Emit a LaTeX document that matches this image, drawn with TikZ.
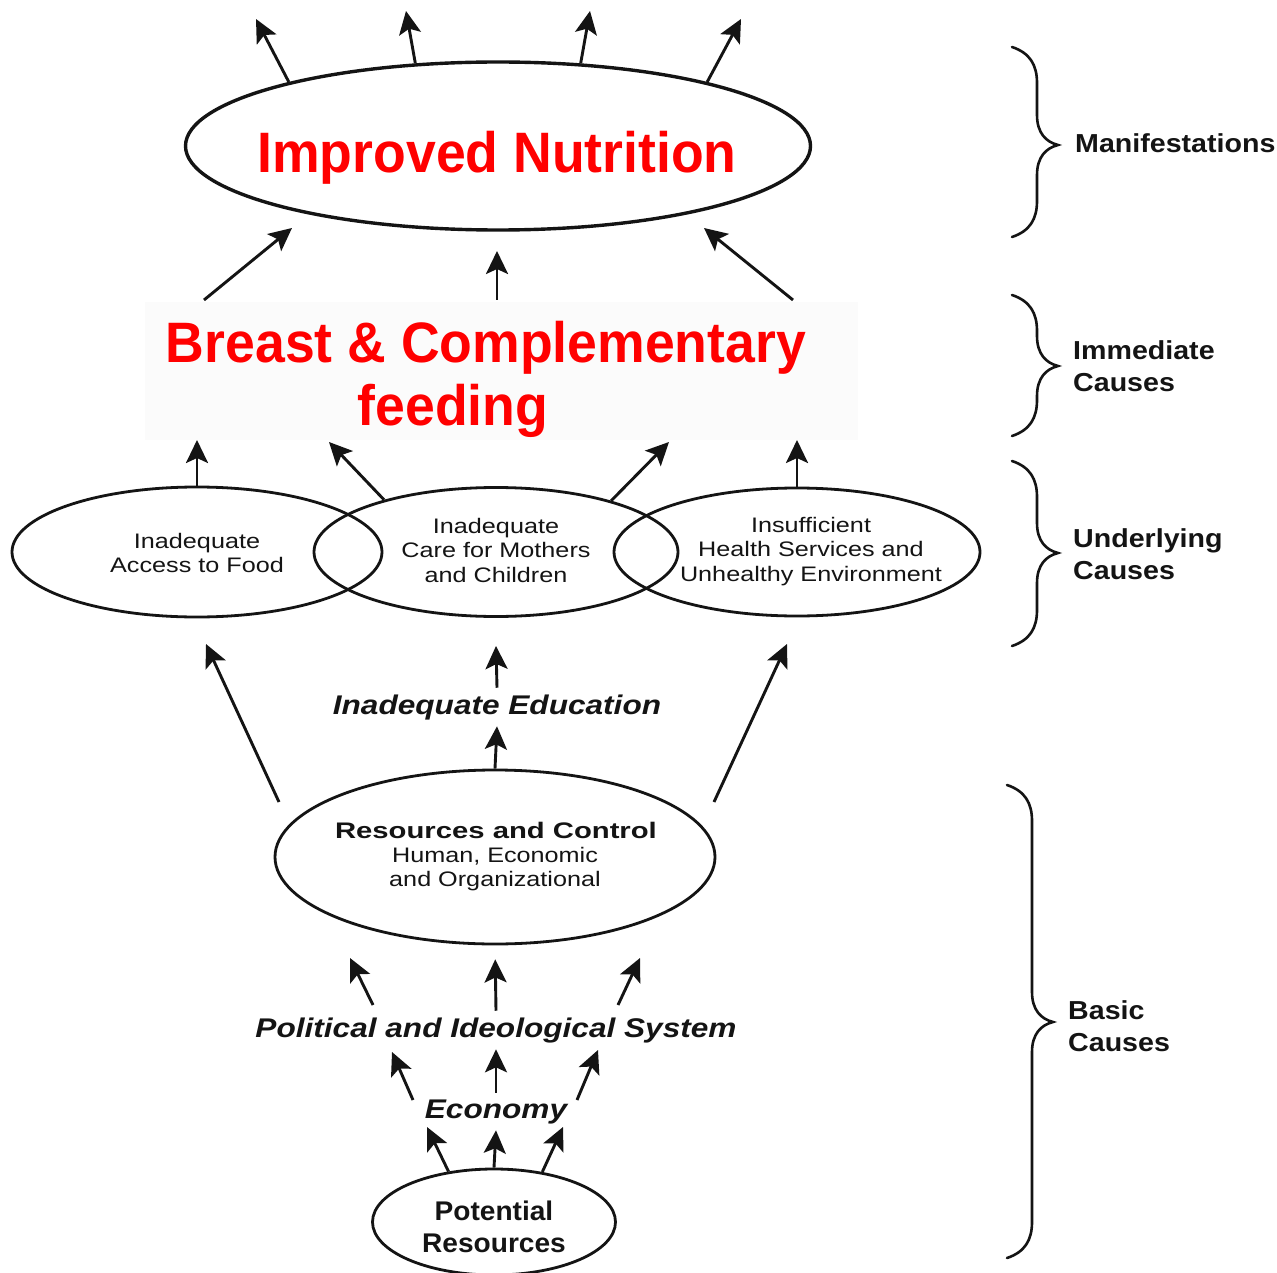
\documentclass[tikz,border=0pt]{standalone}
\usepackage{fontspec}
\setmainfont{Liberation Sans}
\newfontfamily\fRed[FakeStretch=0.94]{Liberation Sans}
\newfontfamily\fThin[FakeStretch=1.2]{Liberation Sans}
\newfontfamily\fRC[FakeStretch=1.3]{Liberation Sans}
\newfontfamily\fIt[FakeStretch=1.17]{Liberation Sans}
\newfontfamily\fLab[FakeStretch=1.1]{Liberation Sans}
\newfontfamily\fPot[FakeStretch=1.04]{Liberation Sans}
\usetikzlibrary{shapes.geometric,arrows.meta}
\definecolor{ink}{gray}{0.08}
\definecolor{nred}{RGB}{255,0,0}
\newcommand\BraceAt[4]{%
  \draw[bracestyle] (#1,#2) .. controls (#1+18,#2+6) and (#1+25,#2+18) .. (#1+25,#2+36)
    -- (#1+25,#3-30) .. controls (#1+25,#3-12) and (#1+34,#3-3) .. (#1+46,#3)
    .. controls (#1+34,#3+3) and (#1+25,#3+12) .. (#1+25,#3+30)
    -- (#1+25,#4-36) .. controls (#1+25,#4-18) and (#1+18,#4-6) .. (#1,#4);}
\begin{document}
\begin{tikzpicture}[x=1pt,y=-1pt,
  ell/.style={draw=ink, ellipse, inner sep=0pt, line width=2.8pt},
  arr/.style={draw=ink, line width=2.9pt, -{Stealth[length=23pt,width=22pt,inset=5pt]}},
  txt/.style={inner sep=0pt, text=ink, align=center},
  redtxt/.style={inner sep=0pt, text=nred, font=\fRed\bfseries\fontsize{57}{64}\selectfont},
  thin/.style={txt, font=\fThin\fontsize{21}{24.5}\selectfont},
  itl/.style={txt, inner ysep=6.5pt, font=\fIt\bfseries\itshape\fontsize{27}{30}\selectfont},
  lab/.style={inner sep=0pt, text=ink, align=left, font=\fLab\bfseries\fontsize{26}{32}\selectfont},
  bracestyle/.style={draw=ink, line width=2.6pt, line cap=round}]
\fill[white] (0,0) rectangle (1277,1273);
\useasboundingbox (0,0) rectangle (1277,1273);
\fill[black!1.5] (145,302) rectangle (858,440);

% --- Manifestations
\node[ell, line width=3.4pt, minimum width=625pt, minimum height=168pt] (top) at (498,146) {};
\node[redtxt, anchor=base] (topT) at (497,173) {Improved Nutrition};

% --- Immediate causes
\node[redtxt, anchor=base] (bf1) at (486,362) {Breast \& Complementary};
\node[redtxt, anchor=base] (bf2) at (453,425) {feeding};

% --- Underlying causes (multi-line nodes: base = last line)
\node[ell, minimum width=370pt, minimum height=130pt] (L) at (197,552) {};
\node[ell, minimum width=364pt, minimum height=129pt] (M) at (496,552) {};
\node[ell, minimum width=366pt, minimum height=128pt] (R) at (797,552) {};
\node[thin, anchor=base] (LT) at (197,572.5) {Inadequate\\Access to Food};
\node[thin, anchor=base] (MT) at (496,582) {Inadequate\\Care for Mothers\\and Children};
\node[thin, anchor=base] (RT) at (811,581) {Insufficient\\Health Services and\\Unhealthy Environment};

% --- Basic causes
\node[itl, anchor=base] (edu) at (497,714) {Inadequate Education};
\node[ell, minimum width=440pt, minimum height=174pt] (res) at (495,857) {};
\node[txt, anchor=base, font=\fRC\bfseries\fontsize{22.5}{25}\selectfont] (resA) at (496,838) {Resources and Control};
\node[thin, anchor=base, font=\fThin\fontsize{21}{24}\selectfont] (resB) at (495,886) {Human, Economic\\and Organizational};
\node[itl, anchor=base] (pol) at (496,1037) {Political and Ideological System};
\node[itl, anchor=base] (eco) at (496,1118) {Economy};
\node[ell, minimum width=243pt, minimum height=106pt] (pot) at (494,1222) {};
\node[txt, anchor=base, font=\fPot\bfseries\fontsize{27}{32}\selectfont] (potT) at (494,1252) {Potential\\Resources};

% --- free arrow ends
\coordinate (a1) at (256,19);
\coordinate (a2) at (406,11);
\coordinate (a3) at (590,11);
\coordinate (a4) at (741,19);
\coordinate (b1s) at (204,300); \coordinate (b1) at (292,228);
\coordinate (b2s) at (497,300); \coordinate (b2) at (497,251);
\coordinate (b3s) at (793,300); \coordinate (b3) at (704,228);
\coordinate (u1) at (197,440);
\coordinate (u2) at (329,442);
\coordinate (u3) at (669,442);
\coordinate (u4) at (797,440);
\coordinate (r1s) at (279,802); \coordinate (r1) at (206,644);
\coordinate (r3s) at (714,802); \coordinate (r3) at (787,644);
\coordinate (u5) at (496,646);
\coordinate (p1s) at (373,1005); \coordinate (p1) at (350,958);
\coordinate (p3s) at (618,1005); \coordinate (p3) at (640,958);
\coordinate (e1s) at (413,1100); \coordinate (e1) at (392,1052);
\coordinate (e3s) at (577,1100); \coordinate (e3) at (598,1050);
\coordinate (q1) at (427,1127);
\coordinate (q3) at (563,1127);

% --- arrows
\draw[arr] (top.163) -- (a1);
\draw[arr] (top.135) -- (a2);
\draw[arr] (top.45) -- (a3);
\draw[arr] (top.17) -- (a4);
\draw[arr] (b1s) -- (b1);
\draw[arr] (b2s) -- (b2);
\draw[arr] (b3s) -- (b3);
\draw[arr] (L.north) -- (u1);
\draw[arr] (M.155.5) -- (u2);
\draw[arr] (M.24.5) -- (u3);
\draw[arr] (R.north) -- (u4);
\draw[arr] (r1s) -- (r1);
\draw[arr] (r3s) -- (r3);
\draw[arr] (res.north) -- (edu.south);
\draw[arr] (edu.north) -- (u5);
\draw[arr] (p1s) -- (p1);
\draw[arr, shorten >=14pt] (pol.north) -- (res.south);
\draw[arr] (p3s) -- (p3);
\draw[arr] (e1s) -- (e1);
\draw[arr] (eco.north) -- (pol.south);
\draw[arr] (e3s) -- (e3);
\draw[arr] (pot.132.6) -- (q1);
\draw[arr] (pot.north) -- (eco.south);
\draw[arr] (pot.46.2) -- (q3);

% --- braces and level labels
\BraceAt{1012}{47}{145}{237}
\BraceAt{1012}{295}{366}{436}
\BraceAt{1012}{461}{553}{646}
\BraceAt{1007}{785}{1022}{1258}
\node[lab, anchor=base west] (m1) at (1075,153) {Manifestations};
\node[lab, anchor=base west] (m2) at (1073,391) {Immediate\\Causes};
\node[lab, anchor=base west] (m3) at (1073,579) {Underlying\\Causes};
\node[lab, anchor=base west] (m4) at (1068,1051) {Basic\\Causes};
\end{tikzpicture}
\end{document}
